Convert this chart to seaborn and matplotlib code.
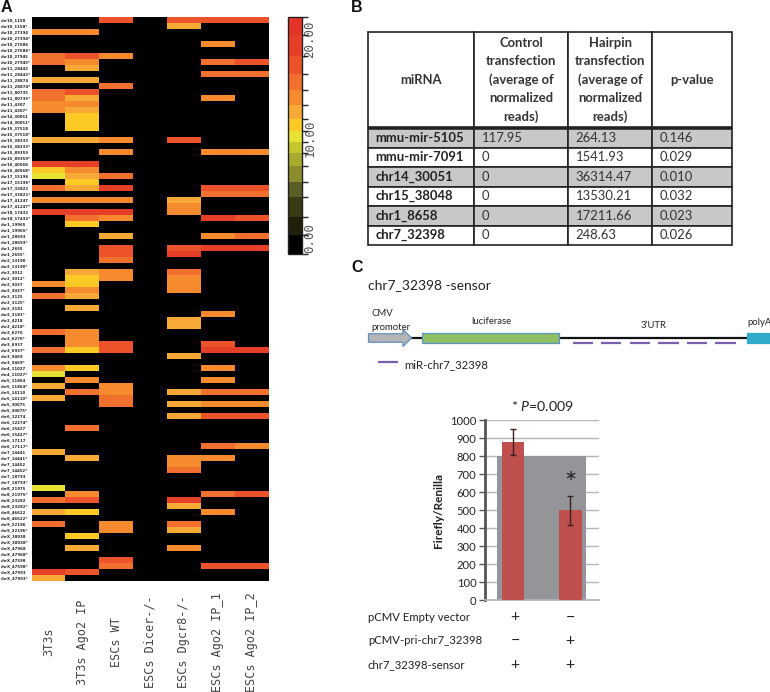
import numpy as np
import pandas as pd
import matplotlib
matplotlib.use('Agg')
import matplotlib.pyplot as plt
import seaborn as sns
from matplotlib.colors import BoundaryNorm, ListedColormap
from matplotlib.patches import FancyArrow, Rectangle

W, H = 770, 692

# panel A
samples = ['3T3s', '3T3s Ago2 IP', 'ESCs WT', 'ESCs Dicer-/-', 'ESCs Dgcr8-/-', 'ESCs Ago2 IP_1', 'ESCs Ago2 IP_2']
mirna_ids = ['chr10_1158', 'chr10_27394', 'chr10_27686', 'chr10_27945', 'chr11_28442', 'chr11_28874',
             'chr11_80735', 'chr11_4307', 'chr14_30051', 'chr15_37518', 'chr15_38333', 'chr15_89359',
             'chr16_40568', 'chr17_15196', 'chr17_33821', 'chr17_41247', 'chr18_17432', 'chr1_19965',
             'chr1_28693', 'chr1_2655', 'chr2_13190', 'chr2_3012', 'chr2_3037', 'chr2_3125', 'chr2_3181',
             'chr2_4218', 'chr2_6276', 'chr3_6937', 'chr3_9469', 'chr4_11027', 'chr5_11864', 'chr5_14110',
             'chr5_30075', 'chr6_12274', 'chr6_15427', 'chr6_17117', 'chr7_14441', 'chr7_14452', 'chr7_18793',
             'chr8_21975', 'chr8_23282', 'chr8_46622', 'chr9_22196', 'chrX_38038', 'chrX_47968', 'chrX_47598',
             'chrX_47993']
row_labels = [m + s for m in mirna_ids for s in ('', '*')]

t3_total = [0, 0, 14, 0, 0, 0, 15.5, 15.5, 0, 0,
            13, 0, 15.5, 15.5, 14.5, 14.5, 0, 0, 0, 0,
            13, 0, 0, 0, 18.5, 11.5, 10.5, 0, 15.5, 0,
            14, 0, 18.5, 0, 0, 0, 0, 0, 0, 0,
            0, 0, 0, 0, 14, 0, 15.5, 0, 0, 0,
            0, 0, 15.5, 0, 0, 15.5, 0, 0, 14, 10.5,
            0, 13, 0, 13, 0, 0, 0, 0, 0, 0,
            0, 0, 13, 0, 0, 0, 0, 0, 10.5, 0,
            15.5, 0, 13, 0, 16, 0, 0, 0, 0, 0,
            0, 0, 19, 13]
t3_ago2 = [0, 0, 14, 0, 0, 0, 17, 14, 13, 0,
           13, 0, 17, 13, 14.5, 13, 11.5, 11.5, 11.5, 0,
           13, 0, 0, 0, 18.5, 14, 13, 11.5, 13, 0,
           14, 0, 20, 16, 11.5, 0, 0, 0, 0, 0,
           0, 0, 13, 11.5, 11.5, 14.5, 13, 0, 13, 0,
           0, 0, 14.5, 14, 14, 11.5, 0, 0, 11.5, 0,
           14.5, 0, 16, 0, 0, 0, 0, 0, 15.5, 0,
           0, 0, 0, 13, 0, 0, 0, 0, 0, 14,
           17.5, 0, 11.5, 0, 0, 0, 11.5, 0, 13, 0,
           0, 0, 17, 0]
esc_wt = [16.5, 0, 0, 0, 0, 0, 14.5, 0, 0, 0,
          0, 15.5, 0, 0, 0, 0, 0, 0, 0, 0,
          14.5, 0, 14.5, 0, 0, 0, 15.5, 0, 18.5, 0,
          14, 0, 18.5, 14, 0, 0, 13, 0, 16.5, 16.5,
          15, 0, 14, 14, 0, 0, 0, 0, 0, 0,
          0, 0, 0, 0, 17.5, 18, 0, 0, 0, 0,
          0, 14.5, 14.5, 15.5, 15.5, 0, 0, 0, 0, 0,
          0, 0, 0, 0, 0, 0, 0, 0, 0, 0,
          0, 0, 0, 0, 14.5, 14.5, 0, 0, 0, 0,
          17, 15.5, 0, 0]
esc_dicer = [0] * 94
esc_dgcr8 = [16.5, 13, 0, 0, 0, 0, 0, 0, 0, 0,
             0, 0, 0, 0, 0, 0, 0, 0, 0, 0,
             17, 0, 0, 0, 0, 0, 0, 0, 0, 0,
             13, 14.5, 14.5, 0, 0, 0, 0, 0, 17, 20,
             0, 0, 15, 14, 14, 14, 0, 0, 0, 0,
             13, 13, 0, 0, 0, 0, 13, 0, 0, 0,
             0, 0, 13, 0, 13, 0, 13, 0, 0, 0,
             0, 0, 0, 14, 14, 15, 0, 0, 0, 0,
             18.5, 13, 0, 0, 16, 13, 0, 0, 14.5, 0,
             0, 0, 0, 0]
esc_ip1 = [17, 0, 0, 0, 14, 0, 0, 16, 0, 16,
           0, 0, 0, 14.5, 0, 0, 0, 0, 0, 0,
           0, 0, 14.5, 0, 0, 0, 0, 0, 17, 16,
           0, 0, 0, 19, 0, 0, 14, 0, 19, 0,
           0, 0, 0, 0, 0, 0, 0, 0, 0, 14.5,
           0, 0, 0, 0, 16.5, 19, 0, 0, 14, 0,
           14, 0, 16, 0, 14.5, 0, 17, 0, 0, 0,
           0, 15.5, 0, 14, 0, 0, 0, 0, 0, 16,
           0, 0, 14.5, 0, 0, 0, 0, 0, 0, 0,
           0, 17.5, 0, 0]
esc_ip2 = [18, 0, 0, 0, 0, 0, 0, 17.5, 0, 15.5,
           0, 0, 0, 0, 0, 0, 0, 0, 0, 0,
           0, 0, 14.5, 0, 0, 0, 0, 0, 17, 16,
           0, 0, 0, 17, 0, 0, 15, 0, 19, 0,
           0, 0, 0, 0, 0, 0, 0, 0, 0, 0,
           0, 0, 0, 0, 0, 19, 0, 0, 0, 0,
           0, 0, 16, 0, 14.5, 0, 17, 0, 0, 0,
           0, 14.5, 0, 0, 0, 0, 0, 0, 0, 17,
           0, 0, 0, 0, 0, 0, 0, 0, 0, 0,
           0, 17.5, 0, 0]

level_edges = [-1.6, 0.3, 2.1, 4.1, 5.6, 7.2, 8.5, 9.6, 10.8, 12, 13.4, 14.9, 16.5, 18.3, 20.4, 22.2]
level_colors = ['#000000', '#20200a', '#3a3a14', '#5b5d24', '#8a8c2e', '#a9ab30', '#c4c72e', '#e8e332',
                '#fcc925', '#f7a935', '#f58b2e', '#f1702e', '#ec532b', '#e63f28', '#e43327']

# panel B
table_header = ['miRNA', 'Control\ntransfection\n(average of\nnormalized\nreads)',
                'Hairpin\ntransfection\n(average of\nnormalized\nreads)', 'p-value']
table_names = ['mmu-mir-5105', 'mmu-mir-7091', 'chr14_30051', 'chr15_38048', 'chr1_8658', 'chr7_32398']
table_control = ['117.95', '0', '0', '0', '0', '0']
table_hairpin = ['264.13', '1541.93', '36314.47', '13530.21', '17211.66', '248.63']
table_pvalue = ['0.146', '0.029', '0.010', '0.032', '0.023', '0.026']

# panel C
conditions = ['empty', 'pri']
ratio = [880, 500]
ratio_err = [72, 80]
backdrop_level = 800
treatments = ['pCMV Empty vector', 'pCMV-pri-chr7_32398', 'chr7_32398-sensor']
signs_empty = ['+', '\u2212', '+']
signs_pri = ['\u2212', '+', '+']

sns.set_theme(style='white')
plt.rcParams['font.family'] = ['Lato', 'DejaVu Sans']
plt.rcParams['mathtext.fontset'] = 'custom'
plt.rcParams['mathtext.it'] = 'Lato:italic'
plt.rcParams['mathtext.rm'] = 'Lato'

fig = plt.figure(figsize=(W / 100, H / 100), dpi=100)


def px_axes(x0, y0, x1, y1):
    return fig.add_axes([x0 / W, 1 - y1 / H, (x1 - x0) / W, (y1 - y0) / H])


# heatmap
df = pd.DataFrame(dict(zip(samples, [t3_total, t3_ago2, esc_wt, esc_dicer, esc_dgcr8, esc_ip1, esc_ip2])),
                  index=row_labels)
ax = px_axes(31.5, 17, 268.5, 581)
cax = px_axes(288, 17, 301.5, 254)
sns.heatmap(df, ax=ax, cbar_ax=cax, cmap=ListedColormap(level_colors),
            norm=BoundaryNorm(level_edges, len(level_colors)),
            xticklabels=True, yticklabels=True,
            cbar_kws={'ticks': [0, 10, 20], 'format': '%.2f', 'spacing': 'proportional'})
ax.tick_params(axis='y', length=0, pad=22, labelsize=2.8, labelcolor='#222222')
ax.tick_params(axis='x', length=0, pad=44, labelsize=8.5, labelcolor='#444444')
for lab in ax.get_yticklabels():
    lab.set_rotation(0)
    lab.set_ha('left')
    lab.set_family('DejaVu Sans')
    lab.set_weight('bold')
for lab in ax.get_xticklabels():
    lab.set_rotation(90)
    lab.set_va('center')
    lab.set_family('DejaVu Sans Mono')
cax.tick_params(axis='y', length=0, pad=1.5, labelsize=9, labelcolor='#555555')
for lab in cax.get_yticklabels():
    lab.set_rotation(90)
    lab.set_va('center')
    lab.set_family('DejaVu Sans Mono')
cbar = ax.collections[0].colorbar
cbar.outline.set_edgecolor('#222222')
cbar.outline.set_linewidth(1)
cbar.outline.set_visible(True)

# table
ax_t = px_axes(368, 32, 732, 245)
ax_t.axis('off')
cols = list(zip(table_names, table_control, table_hairpin, table_pvalue))
col_px = [106, 94, 84, 80]
tb = ax_t.table(cellText=[table_header] + [list(c) for c in cols],
                colWidths=[w / 364 for w in col_px], bbox=[0, 0, 1, 1], cellLoc='left')
tb.auto_set_font_size(False)
for (r, c), cell in tb.get_celld().items():
    cell.set_height(96 / 213 if r == 0 else 19.5 / 213)
    cell.set_linewidth(1.2)
    cell.set_edgecolor('#222222')
    cell.PAD = 7.6 / col_px[c]
    txt = cell.get_text()
    txt.set_fontsize(9.4)
    txt.set_color('#333333')
    if r == 0:
        txt.set_ha('center')
        cell._loc = 'center'
        txt.set_weight('bold')
        txt.set_linespacing(1.62)
    elif c == 0:
        txt.set_weight('bold')
        txt.set_color('#222222')
    if r in (1, 3, 5):
        cell.set_facecolor('#c8c8c8')
ax_t.axhline(117 / 213, color='#222222', lw=2.6, zorder=5)

# bars
ax_b = px_axes(484.7, 420.3, 599, 600.3)
ax_b.bar(0.5, backdrop_level, width=1.55, color='#939598', linewidth=0, zorder=2)
sns.barplot(x=conditions, y=ratio, ax=ax_b, color='#c0504d', saturation=1, width=0.4, linewidth=0, zorder=3)
ax_b.errorbar(conditions, ratio, yerr=ratio_err, fmt='none', ecolor='#3a2020', elinewidth=1, capsize=2.5,
              capthick=1, zorder=4)
ax_b.set_xlim(-0.494, 1.5)
ax_b.set_ylim(0, 1000)
ax_b.set_yticks(range(0, 1001, 100))
ax_b.set_xticks([])
ax_b.set_xlabel('')
ax_b.set_axisbelow(True)
ax_b.yaxis.grid(True, color='#b5b5b5', lw=1)
sns.despine(ax=ax_b, top=True, right=True)
ax_b.spines['left'].set_color('#555555')
ax_b.spines['left'].set_linewidth(2)
ax_b.spines['bottom'].set_color('#b5b5b5')
ax_b.tick_params(axis='y', left=True, length=4, width=1, color='#555555', labelsize=8.1, labelcolor='#222222', pad=2)
ax_b.set_ylabel('Firefly/Renilla', fontsize=8.5, fontweight='bold', color='#222222', labelpad=4)

# schematic and free text, in pixel coordinates
ov = fig.add_axes([0, 0, 1, 1])
ov.set_xlim(0, W)
ov.set_ylim(H, 0)
ov.axis('off')
ov.patch.set_alpha(0)
ov.set_zorder(5)

for letter, x, y in (('A', 1, 7), ('B', 351, 7), ('C', 351, 267)):
    ov.text(x, y, letter, fontsize=11.5, fontweight='bold', family='Liberation Sans', color='#111111',
            ha='left', va='center')

ov.text(368, 285, 'chr7_32398 -sensor', fontsize=10, color='#222222', va='center')
ov.plot([411, 747], [338, 338], color='#111111', lw=1.6, solid_capstyle='butt', zorder=1)
ov.add_patch(FancyArrow(368.5, 338, 43, 0, width=8.5, head_width=17, head_length=8.5, length_includes_head=True,
                        facecolor='#b5b5b5', edgecolor='#5f8fc0', lw=0.9, zorder=2))
ov.add_patch(Rectangle((422, 332.7), 137, 10.6, facecolor='#8fbf65', edgecolor='#5b93c5', lw=0.9, zorder=2))
ov.add_patch(Rectangle((747, 333), 22, 10, facecolor='#31a9c8', edgecolor='#31a9c8', lw=0.9, zorder=2))
for x in (572.7, 601, 629.7, 658.3, 687, 715.3):
    ov.plot([x, x + 20.3], [342.5, 342.5], color='#7b5fb0', lw=1.6, solid_capstyle='butt', zorder=3)
ov.plot([378.3, 398.3], [362, 362], color='#7b5fb0', lw=1.6, solid_capstyle='butt')
ov.text(404.3, 364.7, 'miR-chr7_32398', fontsize=8.2, color='#222222', va='center')
ov.text(371, 314, 'CMV', fontsize=6.8, color='#222222', va='center')
ov.text(371, 327, 'promoter', fontsize=6.8, color='#222222', va='center')
ov.text(491, 322, 'luciferase', fontsize=6.8, color='#222222', va='center', ha='center')
ov.text(654, 325.7, '3\u2019UTR', fontsize=6.8, color='#222222', va='center', ha='center')
ov.text(747, 322.7, 'polyA', fontsize=6.8, color='#222222', va='center')

ov.text(543, 406, '* $\\mathit{P}$=0.009', fontsize=10.2, color='#222222', va='center', ha='center')
ov.text(570, 485, '*', fontsize=21, color='#222222', va='center', ha='center')
for y, name, a, b in zip((617.5, 641, 664.5), treatments, signs_empty, signs_pri):
    ov.text(368, y, name, fontsize=8.2, color='#222222', va='center')
    ov.text(515, y, a, fontsize=11.5, color='#222222', va='center', ha='center')
    ov.text(570, y, b, fontsize=11.5, color='#222222', va='center', ha='center')

fig.savefig('out.png', dpi=100)
